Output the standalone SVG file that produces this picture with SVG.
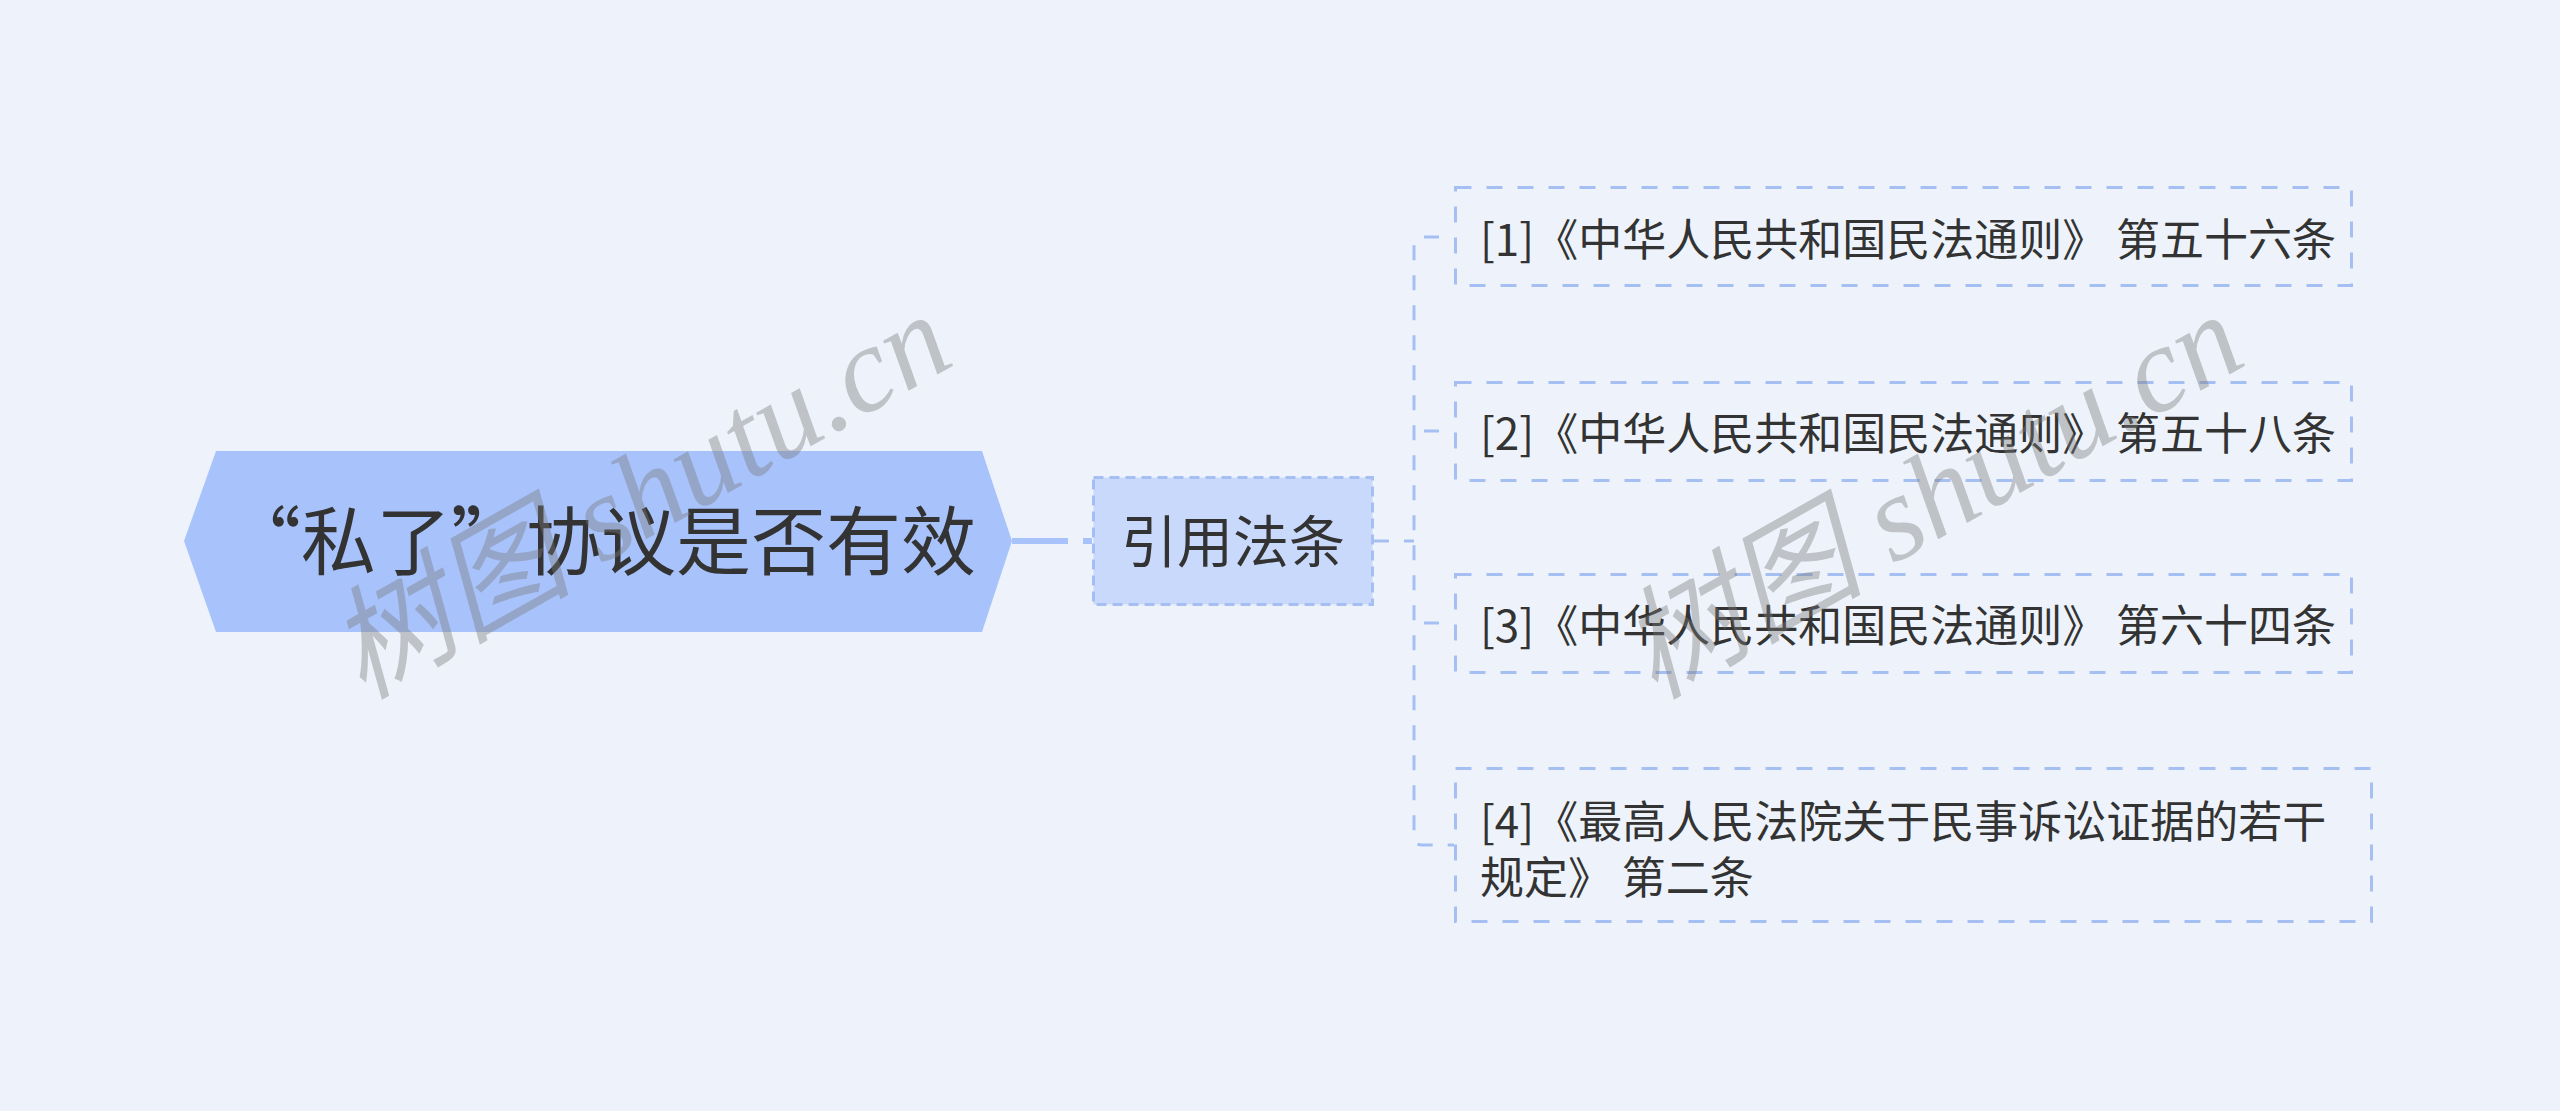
<svg xmlns="http://www.w3.org/2000/svg" width="2560" height="1111" viewBox="0 0 2560 1111">
<style>
.bg{fill:#eef3fb}
.txt{font-family:"Noto Sans CJK SC","Liberation Sans",sans-serif;fill:#333333}
.root{fill:#a8c3fb}
.sub{fill:#c9d9fb;stroke:#a6bff2;stroke-width:3;stroke-dasharray:10 6}
.leaf{fill:none;stroke:#a6bff2;stroke-width:3;stroke-dasharray:16 15}
.conn{fill:none;stroke:#a6bff2;stroke-width:3;stroke-dasharray:15 15}
.wm{font-family:"Liberation Serif","Noto Sans CJK SC",serif;font-style:italic;fill:#7a7a7a;opacity:0.4}
</style>
<rect class="bg" x="0" y="0" width="2560" height="1111"/>
<g id="connectors">
<path d="M1012 541 H1092" fill="none" stroke="#a8c3fb" stroke-width="6" stroke-dasharray="56 15"/>
<path class="conn" d="M1374 541 H1414"/>
<path class="conn" stroke-dashoffset="15" d="M1454 237 H1422 Q1414 237 1414 245 V837 Q1414 845 1422 845 H1454"/>
<path class="conn" stroke-dashoffset="15" d="M1454 431 H1414"/>
<path class="conn" stroke-dashoffset="15" d="M1454 623 H1414"/>
</g>
<g id="root">
<polygon class="root" points="184,541 216,451 982,451 1012,541 982,632 216,632"/>
<text class="txt" x="976" y="569" font-size="75" text-anchor="end">“私了”协议是否有效</text>
</g>
<g id="sub">
<rect class="sub" x="1093.5" y="477.5" width="279" height="127"/>
<text class="txt" x="1233" y="562" font-size="56" text-anchor="middle">引用法条</text>
</g>
<g id="item1">
<rect class="leaf" x="1455.5" y="187.5" width="896" height="98"/>
<text class="txt" x="1480" y="256" font-size="44">[1]《中华人民共和国民法通则》 第五十六条</text>
</g>
<g id="item2">
<rect class="leaf" x="1455.5" y="382.5" width="896" height="98"/>
<text class="txt" x="1480" y="450" font-size="44">[2]《中华人民共和国民法通则》 第五十八条</text>
</g>
<g id="item3">
<rect class="leaf" x="1455.5" y="574.5" width="896" height="98"/>
<text class="txt" x="1480" y="642" font-size="44">[3]《中华人民共和国民法通则》 第六十四条</text>
</g>
<g id="item4">
<rect class="leaf" x="1455.5" y="768.5" width="916" height="153"/>
<text class="txt" x="1480" y="838" font-size="44">[4]《最高人民法院关于民事诉讼证据的若干</text>
<text class="txt" x="1480" y="894" font-size="44">规定》 第二条</text>
</g>
<g id="watermarks">
<text class="wm" x="362" y="700" font-size="122" transform="rotate(-29.5 362 700)">树图 shutu.cn</text>
<text class="wm" x="1654" y="700" font-size="122" transform="rotate(-29.5 1654 700)">树图 shutu.cn</text>
</g>
</svg>
